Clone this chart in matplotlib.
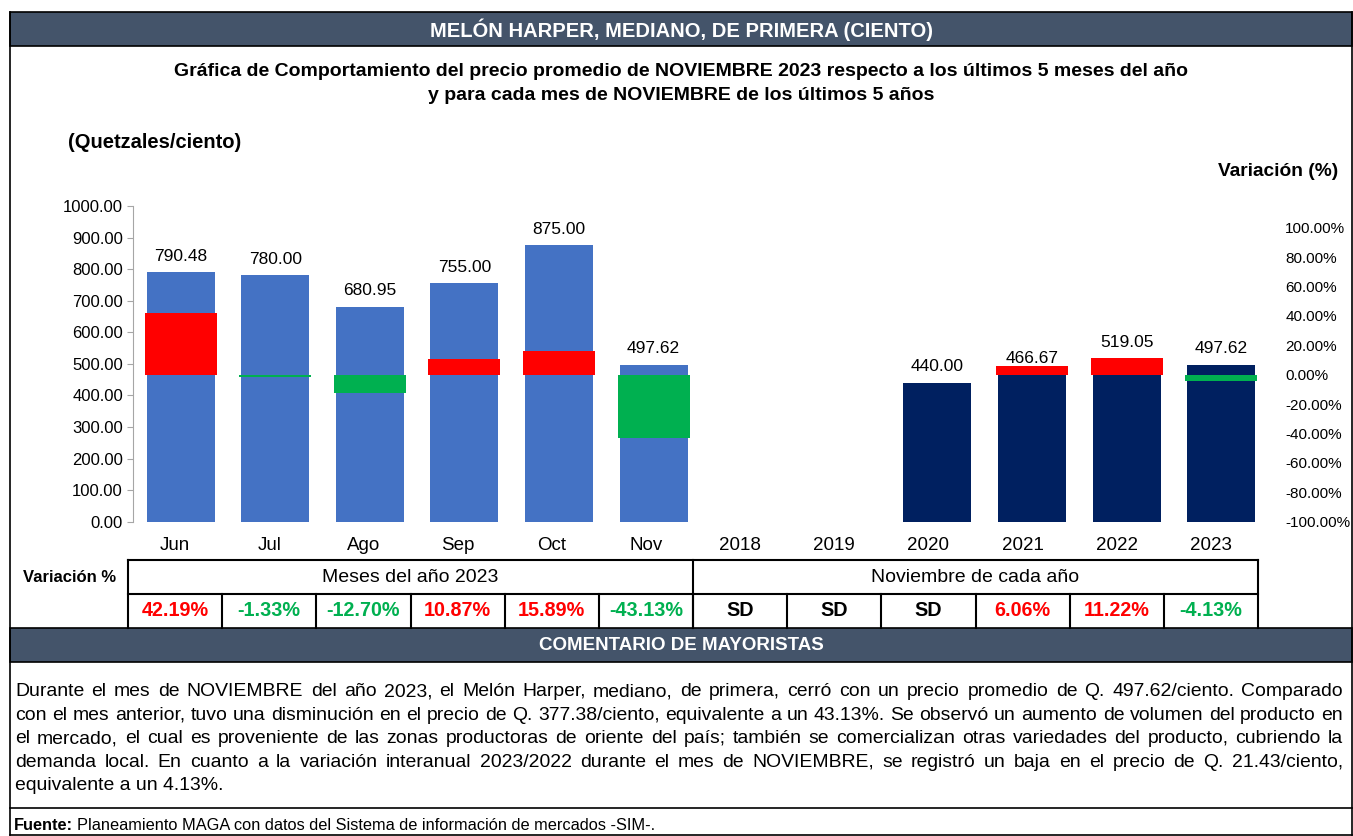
import numpy as np
import matplotlib.pyplot as plt
from matplotlib.patches import Rectangle
from matplotlib.ticker import FuncFormatter

plt.rcParams['font.family'] = ['Liberation Sans', 'DejaVu Sans']

# ---- data ----
months = ['Jun', 'Jul', 'Ago', 'Sep', 'Oct', 'Nov']
years = ['2018', '2019', '2020', '2021', '2022', '2023']
price_months = [790.48, 780.00, 680.95, 755.00, 875.00, 497.62]
price_years = [np.nan, np.nan, 440.00, 466.67, 519.05, 497.62]
var_months = [42.19, -1.33, -12.70, 10.87, 15.89, -43.13]
var_years = [np.nan, np.nan, np.nan, 6.06, 11.22, -4.13]

title = 'MELÓN HARPER, MEDIANO, DE PRIMERA (CIENTO)'
subtitle = ['Gráfica de Comportamiento del precio promedio de NOVIEMBRE 2023 respecto a los últimos 5 meses del año',
            'y para cada mes de NOVIEMBRE de los últimos 5 años']
comment_lines = [
    'Durante el mes de NOVIEMBRE del año 2023, el Melón Harper, mediano, de primera, cerró con un precio promedio de Q. 497.62/ciento. Comparado',
    'con el mes anterior, tuvo una disminución en el precio de Q. 377.38/ciento, equivalente a un 43.13%. Se observó un aumento de volumen del producto en',
    'el mercado, el cual es proveniente de las zonas productoras de oriente del país; también se comercializan otras variedades del producto, cubriendo la',
    'demanda local. En cuanto a la variación interanual 2023/2022 durante el mes de NOVIEMBRE, se registró un baja en el precio de Q. 21.43/ciento,',
    'equivalente a un 4.13%.',
]
fuente = 'Planeamiento MAGA con datos del Sistema de información de mercados -SIM-.'

DARK = '#44546A'
BLUE = '#4472C4'
NAVY = '#002060'
RED = '#FF0000'
GREEN = '#00B050'

W, H = 1353, 836
fig = plt.figure(figsize=(W / 100, H / 100), dpi=100)
renderer = fig.canvas.get_renderer()

# overlay in pixel coordinates
ax0 = fig.add_axes([0, 0, 1, 1])
ax0.set_xlim(0, W)
ax0.set_ylim(H, 0)
ax0.axis('off')
ax0.set_zorder(0)

# header bands
ax0.add_patch(Rectangle((10, 12), 1342, 34, facecolor=DARK, edgecolor='black', lw=1.2))
ax0.text(681, 30, title, ha='center', va='center', color='white', fontsize=14.5, fontweight='bold')
ax0.add_patch(Rectangle((10, 628), 1342, 34, facecolor=DARK, edgecolor='black', lw=1.2))
ax0.text(681, 646, 'COMENTARIO DE MAYORISTAS', ha='center', va='center', color='white',
         fontsize=13.5, fontweight='bold')
# outer frame and separator lines
ax0.plot([10, 10], [12, 835], color='black', lw=1.2)
ax0.plot([1352, 1352], [12, 835], color='black', lw=1.2)
ax0.plot([10, 1352], [808, 808], color='black', lw=1.2)
ax0.plot([10, 1352], [835, 835], color='black', lw=1.2)

ax0.text(681, 72, subtitle[0], ha='center', va='center', fontsize=14, fontweight='bold')
ax0.text(681, 96, subtitle[1], ha='center', va='center', fontsize=14, fontweight='bold')
ax0.text(68, 143, '(Quetzales/ciento)', ha='left', va='center', fontsize=14.5, fontweight='bold')
ax0.text(1338, 172, 'Variación (%)', ha='right', va='center', fontsize=13.8, fontweight='bold')

# ---- table ----
t_left, t_right = 128, 1258
col_w = (t_right - t_left) / 12
labels = months + years
variations = var_months + var_years
for i, lab in enumerate(labels):
    cx = t_left + col_w * (i + 0.5)
    ax0.text(cx, 545, lab, ha='center', va='center', fontsize=13.5)
    v = variations[i]
    if np.isnan(v):
        s, c = 'SD', 'black'
    else:
        s, c = f'{v:.2f}%', RED if v > 0 else GREEN
    ax0.text(cx, 611, s, ha='center', va='center', fontsize=14.2, fontweight='bold', color=c)
mid = t_left + col_w * 6
ax0.text(70, 578, 'Variación %', ha='center', va='center', fontsize=12, fontweight='bold')
ax0.text((t_left + mid) / 2, 578, 'Meses del año 2023', ha='center', va='center', fontsize=14)
ax0.text((mid + t_right) / 2, 578, 'Noviembre de cada año', ha='center', va='center', fontsize=14)
ax0.plot([t_left, t_right], [560, 560], color='black', lw=1.5)
ax0.plot([t_left, t_right], [594, 594], color='black', lw=1.5)
for xv in [t_left, mid, t_right]:
    ax0.plot([xv, xv], [560, 628], color='black', lw=1.5)
for i in range(1, 12):
    xv = t_left + col_w * i
    ax0.plot([xv, xv], [594, 628], color='black', lw=1.5)

# ---- comment text (justified) ----
x_l, x_r = 15, 1343
# pick a size so the longest line still fits with normal word spacing
probe = [ax0.text(0, 0, ln, fontsize=10) for ln in comment_lines[:-1]]
widest = max(t.get_window_extent(renderer).width for t in probe)
for t in probe:
    t.remove()
fs = min(14, 10 * (x_r - x_l - 4) / widest)

for k, line in enumerate(comment_lines):
    y = 692 + k * 23.4
    if k == len(comment_lines) - 1:
        ax0.text(x_l, y, line, ha='left', va='center', fontsize=fs)
        continue
    words = line.split(' ')
    txts = [ax0.text(0, y, w, ha='left', va='center', fontsize=fs) for w in words]
    widths = [t.get_window_extent(renderer).width for t in txts]
    gap = (x_r - x_l - sum(widths)) / (len(words) - 1)
    x = x_l
    for t, w in zip(txts, widths):
        t.set_x(x)
        x += w + gap

ft = ax0.text(14, 826, 'Fuente:', ha='left', va='center', fontsize=11.8, fontweight='bold')
fw = ft.get_window_extent(renderer).width
ax0.text(14 + fw + 4, 826, fuente, ha='left', va='center', fontsize=11.8)

# ---- chart ----
px_l, px_r, px_top, px_bot = 133.3, 1268.5, 206, 521.7
ax = fig.add_axes([px_l / W, (H - px_bot) / H, (px_r - px_l) / W, (px_bot - px_top) / H])
ax.set_zorder(1)
ax.patch.set_visible(False)
x_m = np.arange(6)
x_y = np.arange(6, 12)
ax.bar(x_m, price_months, width=0.72, color=BLUE)
ax.bar(x_y, price_years, width=0.72, color=NAVY)
for xs, vals in [(x_m, price_months), (x_y, price_years)]:
    for xi, v in zip(xs, vals):
        if not np.isnan(v):
            ax.annotate(f'{v:.2f}', (xi, v), xytext=(0, 6), textcoords='offset points',
                        ha='center', va='bottom', fontsize=12.5)
ax.set_xlim(-0.5, 11.5)
ax.set_ylim(0, 1000)
ax.set_yticks(np.arange(0, 1001, 100))
ax.yaxis.set_major_formatter(FuncFormatter(lambda v, p: f'{v:.2f}'))
ax.set_xticks([])
for sp in ['top', 'right', 'bottom']:
    ax.spines[sp].set_visible(False)
ax.spines['left'].set_color('#A6A6A6')
ax.tick_params(axis='y', colors='#A6A6A6', labelcolor='black', labelsize=12, length=4)

ax2 = ax.twinx()
ax2.set_zorder(2)
ax2.patch.set_visible(False)
all_var = np.array(var_months + var_years) / 100
bar_cols = [RED if v > 0 else GREEN for v in np.nan_to_num(all_var)]
ax2.bar(np.arange(12), all_var, width=0.76, color=bar_cols)
ax2.set_ylim(-1, 1.148)
ax2.set_yticks(np.arange(-1, 1.01, 0.2))
ax2.yaxis.set_major_formatter(FuncFormatter(lambda v, p: f'{round(v * 100, 2) + 0:.2f}%'))
for sp in ax2.spines.values():
    sp.set_visible(False)
ax2.tick_params(axis='y', length=0, labelsize=11, pad=12)

fig.savefig('out.png', dpi=100)
